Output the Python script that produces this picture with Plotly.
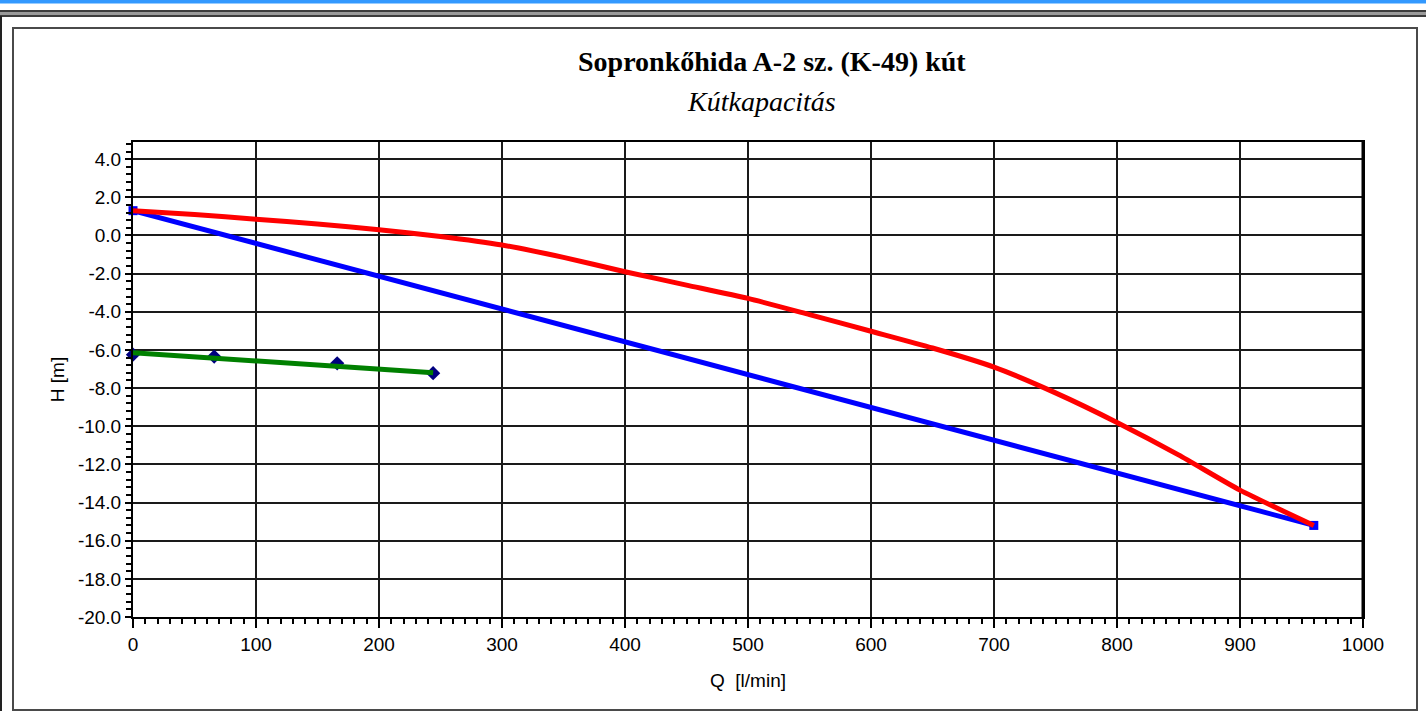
import plotly.graph_objects as go

# ---- data ----
q_curve = [0, 50, 100, 150, 200, 250, 300, 350, 400, 450, 500, 550, 600, 650, 700, 750, 800, 850, 900, 960]
h_curve = [1.3, 1.1, 0.85, 0.6, 0.3, -0.05, -0.5, -1.15, -1.9, -2.6, -3.3, -4.15, -5.02, -5.9, -6.9, -8.25, -9.8, -11.5, -13.35, -15.2]

q_line = [0, 960]
h_line = [1.3, -15.2]

q_meas = [0, 66, 166, 244]
h_meas = [-6.25, -6.35, -6.7, -7.22]

q_trend = [0, 244]
h_trend = [-6.15, -7.2]

x_ticks = [0, 100, 200, 300, 400, 500, 600, 700, 800, 900, 1000]
y_ticks = [4, 2, 0, -2, -4, -6, -8, -10, -12, -14, -16, -18, -20]

title = "Sopronkőhida A-2 sz. (K-49) kút"
subtitle = "Kútkapacitás"

# ---- layout geometry (pixels) ----
W, H = 1426, 711
L, R, T, B = 133, 1363, 142, 617
PW, PH = R - L, B - T

def px(x):
    return (x - L) / PW

def py(y):
    return (B - y) / PH

fig = go.Figure()

fig.add_trace(go.Scatter(x=q_line, y=h_line, mode="lines+markers",
                         line=dict(color="#0000ff", width=5),
                         marker=dict(symbol="square", size=9, color="#0000ff"),
                         showlegend=False, cliponaxis=False))
fig.add_trace(go.Scatter(x=q_curve, y=h_curve, mode="lines",
                         line=dict(color="#ff0000", width=5, shape="spline", smoothing=0.6),
                         showlegend=False, cliponaxis=False))
fig.add_trace(go.Scatter(x=q_meas, y=h_meas, mode="markers",
                         marker=dict(symbol="diamond", size=11, color="#000080"),
                         showlegend=False, cliponaxis=False))
fig.add_trace(go.Scatter(x=q_trend, y=h_trend, mode="lines",
                         line=dict(color="#008000", width=5),
                         showlegend=False, cliponaxis=False))

tickfont = dict(family="Liberation Sans, Arial, sans-serif", size=19, color="black")

fig.update_xaxes(range=[0, 1000], tickvals=x_ticks, ticktext=[str(v) for v in x_ticks],
                 showgrid=True, gridcolor="#1a1a1a", gridwidth=2,
                 showline=True, linecolor="black", linewidth=2, mirror=True,
                 ticks="outside", ticklen=9, tickwidth=2, tickcolor="black",
                 minor=dict(dtick=10, tick0=0, ticks="outside", ticklen=5, tickwidth=1.5,
                            tickcolor="black", showgrid=False),
                 tickfont=tickfont, zeroline=False,
                 title=dict(text="Q  [l/min]", font=tickfont, standoff=20))
fig.update_yaxes(range=[-20, 4.9], tickvals=y_ticks, ticktext=[f"{v:.1f}" for v in y_ticks],
                 showgrid=True, gridcolor="#1a1a1a", gridwidth=2,
                 showline=True, linecolor="black", linewidth=2, mirror=True,
                 ticks="outside", ticklen=6, tickwidth=2, tickcolor="black",
                 minor=dict(dtick=0.4, tick0=0, ticks="outside", ticklen=5, tickwidth=1.5,
                            tickcolor="black", showgrid=False),
                 tickfont=tickfont, zeroline=False,
                 title=dict(text="H [m]", font=tickfont, standoff=8))

shapes = []
# top blue stripe
shapes.append(dict(type="rect", xref="paper", yref="paper", x0=px(0), x1=px(W), y0=py(0), y1=py(3.5),
                   fillcolor="#3399ff", line=dict(width=0), layer="below"))
# double top line
shapes.append(dict(type="rect", xref="paper", yref="paper", x0=px(0), x1=px(W), y0=py(10), y1=py(17),
                   fillcolor="#9a9a9a", line=dict(width=0), layer="below"))
for yy in (11, 16):
    shapes.append(dict(type="line", xref="paper", yref="paper", x0=px(0), x1=px(W), y0=py(yy), y1=py(yy),
                       line=dict(color="#3c3c3c", width=2), layer="below"))
# outer left edge
shapes.append(dict(type="line", xref="paper", yref="paper", x0=px(1), x1=px(1), y0=py(16), y1=py(H),
                   line=dict(color="#222222", width=2), layer="below"))
# inner chart frame
shapes.append(dict(type="rect", xref="paper", yref="paper", x0=px(13), x1=px(1417), y0=py(28), y1=py(710),
                   line=dict(color="#4a4a4a", width=2), fillcolor="rgba(0,0,0,0)", layer="below"))
# thick right border of plot area
shapes.append(dict(type="line", xref="paper", yref="paper", x0=1, x1=1, y0=0, y1=1,
                   line=dict(color="black", width=3)))

annotations = [
    dict(text=f"<b>{title}</b>", xref="paper", yref="paper", x=px(772), y=py(62),
         xanchor="center", yanchor="middle", showarrow=False,
         font=dict(family="Liberation Serif, Times New Roman, serif", size=28, color="black")),
    dict(text=f"<i>{subtitle}</i>", xref="paper", yref="paper", x=px(761), y=py(102),
         xanchor="center", yanchor="middle", showarrow=False,
         font=dict(family="Liberation Serif, Times New Roman, serif", size=28, color="black")),
]

fig.update_layout(width=W, height=H, margin=dict(l=L, r=W - R, t=T, b=H - B),
                  paper_bgcolor="white", plot_bgcolor="white",
                  shapes=shapes, annotations=annotations, showlegend=False)

fig.write_html("out.html")
